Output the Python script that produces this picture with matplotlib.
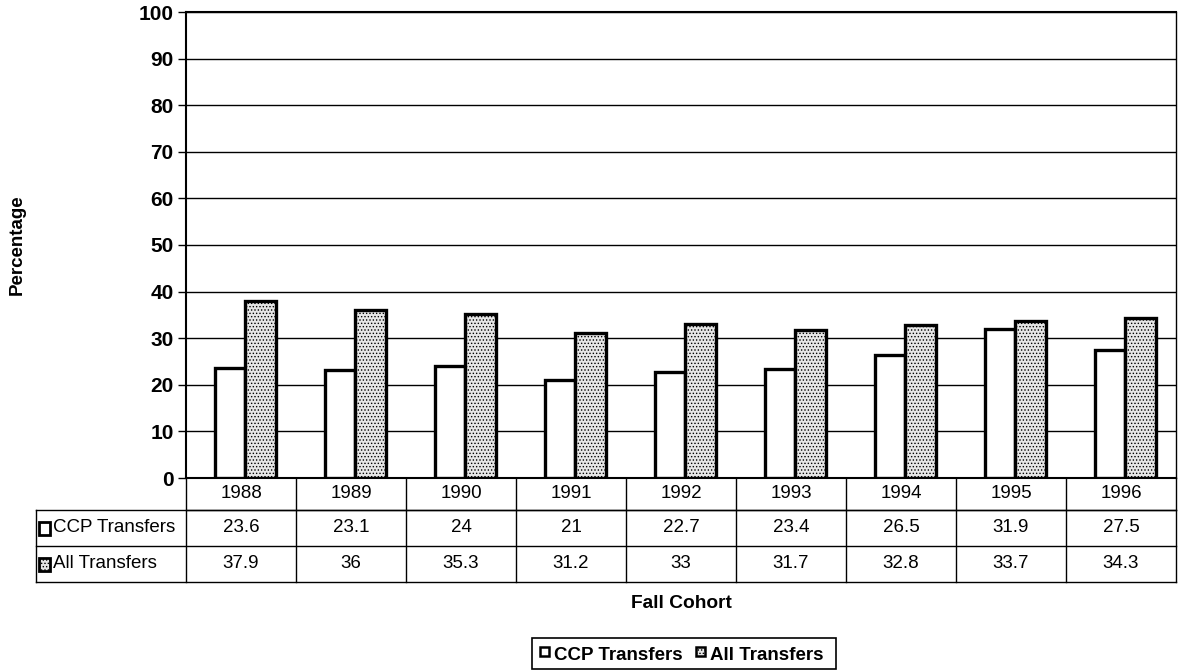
import matplotlib.pyplot as plt
import numpy as np
from matplotlib.patches import Rectangle

#####Data
years = ["1988", "1989", "1990", "1991", "1992", "1993", "1994", "1995", "1996"]
ccp = [23.6, 23.1, 24, 21, 22.7, 23.4, 26.5, 31.9, 27.5]
all_tr = [37.9, 36, 35.3, 31.2, 33, 31.7, 32.8, 33.7, 34.3]
ccp_txt = ["23.6", "23.1", "24", "21", "22.7", "23.4", "26.5", "31.9", "27.5"]
all_txt = ["37.9", "36", "35.3", "31.2", "33", "31.7", "32.8", "33.7", "34.3"]

plt.rcParams['font.family'] = ['Liberation Sans', 'DejaVu Sans']
plt.rcParams['hatch.color'] = '#707070'
plt.rcParams['hatch.linewidth'] = 0.6

W, H = 1180, 671
fig = plt.figure(figsize=(W / 100, H / 100), dpi=100)
ax = fig.add_axes([186 / W, 1 - 478 / H, (1176 - 186) / W, (478 - 12) / H])

x = np.arange(len(years))
bw = 0.28
ax.bar(x - bw / 2 + 0.04, ccp, bw, color='white', edgecolor='black', linewidth=2.4, zorder=3)
ax.bar(x + bw / 2 + 0.04, all_tr, bw, color='#e6e6e6', edgecolor='black', linewidth=2.4,
       hatch='.....', zorder=3)

ax.set_xlim(-0.5, len(years) - 0.5)
ax.set_ylim(0, 100)
ax.set_yticks(range(0, 101, 10))
ax.yaxis.grid(True, color='black', linewidth=1.0, zorder=0)
ax.tick_params(axis='y', length=6, width=1, labelsize=15, pad=3)
for lab in ax.get_yticklabels():
    lab.set_fontweight('bold')
ax.set_xticks([])
for s in ['left', 'top', 'bottom']:
    ax.spines[s].set_linewidth(1.5)
ax.spines['right'].set_linewidth(1.0)
fig.text(17 / W, 1 - 245 / H, "Percentage", rotation=90, ha='center', va='center',
         fontsize=13.5, fontweight='bold')

#####Data table under the plot
tr = ax.get_xaxis_transform()
axh = 478 - 12
r0, r1, r2, r3 = 0, -32 / axh, -68 / axh, -104 / axh
lx = (36 - 186) / (1176 - 186) * len(years) - 0.5   # left edge of label column
lines = dict(color='black', linewidth=1.0, transform=tr, clip_on=False)
ax.plot([-0.5, len(years) - 0.5], [r1, r1], **lines)
ax.plot([lx, len(years) - 0.5], [r1, r1], **lines)
ax.plot([lx, len(years) - 0.5], [r2, r2], **lines)
ax.plot([lx, len(years) - 0.5], [r3, r3], **lines)
ax.plot([lx, lx], [r1, r3], **lines)
for i in range(len(years) + 1):
    ax.plot([i - 0.5, i - 0.5], [r0, r3], **lines)
for i, yr in enumerate(years):
    ax.text(i, (r0 + r1) / 2, yr, transform=tr, ha='center', va='center', fontsize=13.5)
    ax.text(i, (r1 + r2) / 2, ccp_txt[i], transform=tr, ha='center', va='center', fontsize=13.5)
    ax.text(i, (r2 + r3) / 2, all_txt[i], transform=tr, ha='center', va='center', fontsize=13.5)

# row label keys
kx = lx + 0.025
ksz = 0.10
for ry, fc, hh, name in [((r1 + r2) / 2, 'white', None, "CCP Transfers"),
                         ((r2 + r3) / 2, '#e6e6e6', '.....', "All Transfers")]:
    ax.add_patch(Rectangle((kx, ry - 0.014), ksz, 0.026, transform=tr, clip_on=False,
                           facecolor=fc, edgecolor='black', linewidth=2.0, hatch=hh))
    ax.text(kx + ksz + 0.03, ry, name, transform=tr, ha='left', va='center', fontsize=13.5)

fig.text((186 + 1176) / 2 / W, 1 - 603 / H, "Fall Cohort", ha='center', va='center',
         fontsize=13.8, fontweight='bold')

#####Legend box
fig.add_artist(Rectangle((532 / W, 1 - 669 / H), (836 - 532) / W, 31 / H,
                         transform=fig.transFigure, facecolor='white', edgecolor='black',
                         linewidth=1.2))
for lx0, fc, hh, name in [(540, 'white', None, "CCP Transfers"),
                          (696, '#e6e6e6', '.....', "All Transfers")]:
    fig.add_artist(Rectangle((lx0 / W, 1 - 656 / H), 9 / W, 9 / H, transform=fig.transFigure,
                             facecolor=fc, edgecolor='black', linewidth=1.8, hatch=hh))
    fig.text((lx0 + 14) / W, 1 - 656 / H, name, ha='left', va='center',
             fontsize=13.5, fontweight='bold')

plt.savefig("out.png", dpi=100)
